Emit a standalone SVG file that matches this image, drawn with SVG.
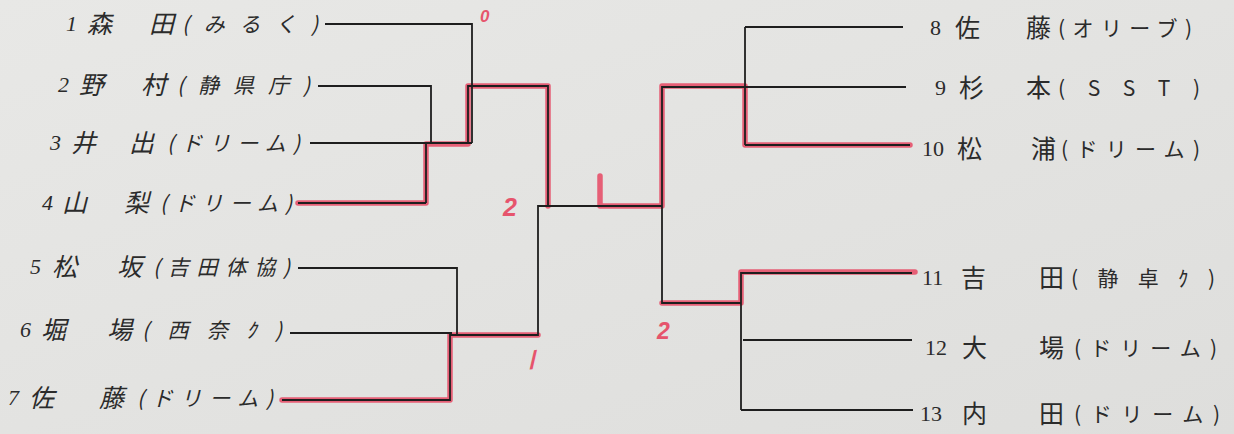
<svg xmlns="http://www.w3.org/2000/svg" width="1234" height="434" viewBox="0 0 1234 434">
<defs>
<linearGradient id="bg" x1="0" y1="0" x2="1" y2="1">
<stop offset="0" stop-color="#e8e8e6"/>
<stop offset="1" stop-color="#dededc"/>
</linearGradient>
</defs>
<style>
.t{font-family:"Noto Sans CJK JP","Noto Sans CJK SC",sans-serif;fill:#2b2b2b;font-size:25px}
.a{font-size:21px}
.n{font-family:"Liberation Serif",serif;font-size:22px;fill:#2b2b2b}
.L text{font-style:italic}
.blk{fill:none;stroke:#1e1e1e;stroke-width:1.8}
.red{fill:none;stroke:#e6546c;stroke-width:5.5;stroke-linejoin:round;stroke-linecap:round;opacity:.92}
.sc{font-family:"Liberation Sans",sans-serif;font-weight:bold;font-style:italic;fill:#e6546c}
</style>
<rect width="1234" height="434" fill="url(#bg)"/>

<g id="connectors">
<g id="red-paths">
<path class="red" d="M298,203 H426 V144 H468 V86 H548 V206"/>
<path class="red" d="M282,400 H450 V335 H538"/>
<path class="red" d="M600,176 V206 H662 V86 H745 V145 H910"/>
<path class="red" d="M662,303 H741 V272 H915"/>
</g>
<g id="black-lines">
<path class="blk" d="M325,24 H472 V143"/>
<path class="blk" d="M318,86 H431 V143 M426,143 V203"/>
<path class="blk" d="M310,143 H472"/>
<path class="blk" d="M298,203 H426"/>
<path class="blk" d="M468,143 V86 H548 V206"/>
<path class="blk" d="M298,268 H457 V335"/>
<path class="blk" d="M290,333 H452"/>
<path class="blk" d="M282,400 H450 V335 H538 V206 H662"/>
<path class="blk" d="M662,206 V87 H745"/>
<path class="blk" d="M745,27 V145"/>
<path class="blk" d="M745,27 H903"/>
<path class="blk" d="M745,87 H906"/>
<path class="blk" d="M745,145 H910"/>
<path class="blk" d="M662,206 V303 H741"/>
<path class="blk" d="M741,272 V410"/>
<path class="blk" d="M741,273 H912"/>
<path class="blk" d="M743,340 H912"/>
<path class="blk" d="M741,410 H913"/>
</g>
</g>

<g id="scores">
<text class="sc" x="480" y="22" font-size="17">0</text>
<text class="sc" x="503" y="216" font-size="25">2</text>
<text class="sc" x="529" y="368" font-size="25" transform="rotate(-8 537 358)">/</text>
<text class="sc" x="657" y="339" font-size="23">2</text>
</g>

<g id="p1" class="L"><text class="n" x="66" y="31">1</text><text class="t" x="87" y="33">森</text><text class="t" x="149" y="33">田</text><text class="t a" x="182" y="32" textLength="136" lengthAdjust="spacing">(みるく)</text></g>
<g id="p2" class="L"><text class="n" x="58" y="92">2</text><text class="t" x="79" y="94">野</text><text class="t" x="141" y="94">村</text><text class="t a" x="177" y="93" textLength="133" lengthAdjust="spacing">(静県庁)</text></g>
<g id="p3" class="L"><text class="n" x="50" y="150">3</text><text class="t" x="71" y="152">井</text><text class="t" x="129" y="152">出</text><text class="t a" x="167" y="151" textLength="133" lengthAdjust="spacing">(ドリーム)</text></g>
<g id="p4" class="L"><text class="n" x="42" y="210">4</text><text class="t" x="62" y="212">山</text><text class="t" x="124" y="212">梨</text><text class="t a" x="160" y="211" textLength="132" lengthAdjust="spacing">(ドリーム)</text></g>
<g id="p5" class="L"><text class="n" x="30" y="274">5</text><text class="t" x="52" y="276">松</text><text class="t" x="117" y="276">坂</text><text class="t a" x="153" y="275" textLength="137" lengthAdjust="spacing">(吉田体協)</text></g>
<g id="p6" class="L"><text class="n" x="20" y="337">6</text><text class="t" x="41" y="339">堀</text><text class="t" x="107" y="339">場</text><text class="t a" x="142" y="338" textLength="140" lengthAdjust="spacing">( 西 奈 ｸ )</text></g>
<g id="p7" class="L"><text class="n" x="8" y="405">7</text><text class="t" x="29" y="407">佐</text><text class="t" x="99" y="407">藤</text><text class="t a" x="137" y="406" textLength="136" lengthAdjust="spacing">(ドリーム)</text></g>

<g id="p8"><text class="n" x="930" y="35">8</text><text class="t" x="955" y="37">佐</text><text class="t" x="1026" y="37">藤</text><text class="t a" x="1058" y="36" textLength="134" lengthAdjust="spacing">(オリーブ)</text></g>
<g id="p9"><text class="n" x="935" y="95">9</text><text class="t" x="959" y="97">杉</text><text class="t" x="1026" y="97">本</text><text class="t a" x="1058" y="96" textLength="142" lengthAdjust="spacing">( S S T )</text></g>
<g id="p10"><text class="n" x="922" y="156">10</text><text class="t" x="957" y="158">松</text><text class="t" x="1031" y="158">浦</text><text class="t a" x="1061" y="157" textLength="139" lengthAdjust="spacing">(ドリーム)</text></g>
<g id="p11"><text class="n" x="922" y="285">11</text><text class="t" x="961" y="287">吉</text><text class="t" x="1039" y="287">田</text><text class="t a" x="1071" y="286" textLength="144" lengthAdjust="spacing">( 静 卓 ｸ )</text></g>
<g id="p12"><text class="n" x="925" y="355">12</text><text class="t" x="962" y="357">大</text><text class="t" x="1039" y="357">場</text><text class="t a" x="1074" y="356" textLength="143" lengthAdjust="spacing">(ドリーム)</text></g>
<g id="p13"><text class="n" x="920" y="421">13</text><text class="t" x="962" y="423">内</text><text class="t" x="1039" y="423">田</text><text class="t a" x="1074" y="422" textLength="146" lengthAdjust="spacing">(ドリーム)</text></g>
</svg>
